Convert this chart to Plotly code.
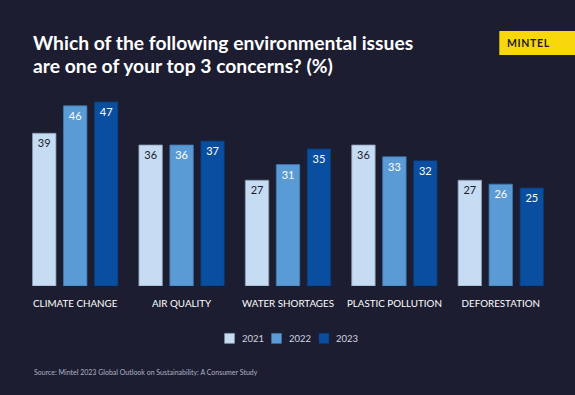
import plotly.graph_objects as go

categories = ["CLIMATE CHANGE", "AIR QUALITY", "WATER SHORTAGES", "PLASTIC POLLUTION", "DEFORESTATION"]
years = ["2021", "2022", "2023"]
values_2021 = [39, 36, 27, 36, 27]
values_2022 = [46, 36, 31, 33, 26]
values_2023 = [47, 37, 35, 32, 25]
series_values = [values_2021, values_2022, values_2023]
title_lines = ["Which of the following environmental issues", "are one of your top 3 concerns? (%)"]

colors = ["#c6dcf2", "#5a9ad5", "#0a4f9f"]
line_colors = ["#8a9ab0", "#3f78b0", "#083c7a"]
text_colors = ["#1c1d30", "#ffffff", "#ffffff"]

BG = "#1c1d30"
W, H = 575, 395
L, R, T, B = 21.75, 20.75, 95, 109.3
PW = W - L - R
PH = H - T - B
ymax = PH / 3.91


def xp(px):
    return (px - L) / PW


def yp(py):
    return (H - B - py) / PH


fig = go.Figure()
for i, yr in enumerate(years):
    fig.add_trace(go.Bar(
        name=yr,
        x=categories,
        y=series_values[i],
        marker=dict(color=colors[i], line=dict(color=line_colors[i], width=0.8)),
        text=[str(v) for v in series_values[i]],
        textposition="inside",
        insidetextanchor="end",
        constraintext="none",
        textfont=dict(family="Lato", size=11, color=text_colors[i]),
        showlegend=False,
        cliponaxis=False,
    ))

fig.update_layout(
    width=W, height=H,
    paper_bgcolor=BG, plot_bgcolor=BG,
    margin=dict(l=L, r=R, t=T, b=B, pad=0),
    barmode="group",
    bargap=0.127,
    bargroupgap=0.243,
    font=dict(family="Lato", color="#ffffff"),
    xaxis=dict(
        showgrid=False, zeroline=False, showline=False, ticks="",
        tickfont=dict(family="Lato", size=9.8, color="#ffffff"),
        ticklabelstandoff=10,
    ),
    yaxis=dict(range=[0, ymax], visible=False, showgrid=False),
)

# Title (two lines)
title_y = [42.5, 65.5]
for line, ty in zip(title_lines, title_y):
    fig.add_annotation(xref="paper", yref="paper", x=xp(31), y=yp(ty),
                       text="<b>" + line + "</b>", showarrow=False,
                       xanchor="left", yanchor="middle",
                       font=dict(family="Lato", size=19.3, color="#ffffff"))

# MINTEL badge
fig.add_shape(type="rect", xref="paper", yref="paper",
              x0=xp(499.5), x1=xp(578), y0=yp(55), y1=yp(31),
              fillcolor="#f9d80b", line=dict(width=0), layer="above")
fig.add_annotation(xref="paper", yref="paper", x=xp(528.5), y=yp(43),
                   text="<b>M I N T E L</b>".replace(" ", "&#8202;"), showarrow=False,
                   font=dict(family="Lato", size=10.5, color="#1c1d30"),
                   xanchor="center", yanchor="middle")

# Custom legend
leg_sq_x = [224.5, 271.5, 319]
for i, yr in enumerate(years):
    x0 = leg_sq_x[i]
    fig.add_shape(type="rect", xref="paper", yref="paper",
                  x0=xp(x0), x1=xp(x0 + 10), y0=yp(343), y1=yp(333),
                  fillcolor=colors[i], line=dict(color=line_colors[i], width=0.6))
    fig.add_annotation(xref="paper", yref="paper", x=xp(x0 + 15.5), y=yp(338),
                       text=yr, showarrow=False, xanchor="left", yanchor="middle",
                       font=dict(family="Lato", size=9.5, color="#d0d4e0"))

# Source
fig.add_annotation(xref="paper", yref="paper", x=xp(32), y=yp(371.7),
                   text="Source: Mintel 2023 Global Outlook on Sustainability: A Consumer Study",
                   showarrow=False, xanchor="left", yanchor="middle",
                   font=dict(family="Lato", size=7, color="#aeb2c4"))

fig.write_html("out.html", config={"displayModeBar": False},
               post_script="document.body.style.margin='0px';document.body.style.overflow='hidden';")
